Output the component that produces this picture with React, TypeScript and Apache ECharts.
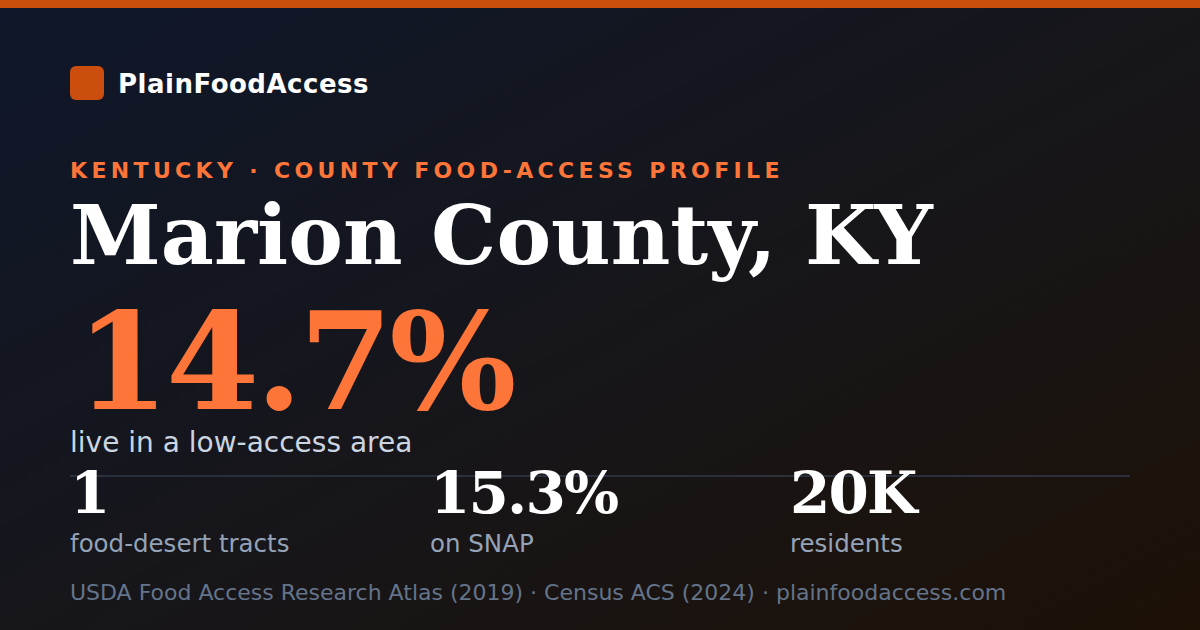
import { useEffect, useRef } from 'react';
import * as echarts from 'echarts';

// card content
const brandName = 'PlainFoodAccess';
const kicker = 'KENTUCKY · COUNTY FOOD-ACCESS PROFILE';
const countyName = 'Marion County, KY';
const headlineValue = ['14.7%'];
const headlineLabel = ['live in a low-access area'];
const statValues = ['1', '15.3%', '20K'];
const statLabels = ['food-desert tracts', 'on SNAP', 'residents'];
const sourceNote = 'USDA Food Access Research Atlas (2019) · Census ACS (2024) · plainfoodaccess.com';

const SANS = '"DejaVu Sans", Verdana, sans-serif';
const SERIF = '"DejaVu Serif", Georgia, serif';
const ORANGE = '#fd7538';
const BAR = '#cb4e0e';

// place text by its alphabetic baseline (zrender centres the line box)
const at = (baseline: number, size: number) => baseline - size * 0.346;

export default function App() {
  const chartRef = useRef<HTMLDivElement>(null);

  useEffect(() => {
    if (!chartRef.current) return;
    document.body.style.margin = '0';

    const chart = echarts.init(chartRef.current, null, { renderer: 'svg' });

    const text = (
      x: number,
      baseline: number,
      value: string,
      size: number,
      color: string,
      family: string,
      weight: string | number = 'normal',
      lineHeight?: number
    ) => ({
      type: 'text',
      x,
      y: at(baseline, size),
      style: {
        text: value,
        fill: color,
        fontSize: size,
        fontFamily: family,
        fontWeight: weight,
        lineHeight: lineHeight ?? size,
        textAlign: 'left',
        textVerticalAlign: 'middle',
      },
    });

    const statCols = [70, 430, 790];

    const option: echarts.EChartsOption = {
      animation: false,
      backgroundColor: '#141620',
      graphic: [
        {
          type: 'rect',
          shape: { x: 0, y: 0, width: 1200, height: 630 },
          style: {
            fill: new echarts.graphic.LinearGradient(0, 0, 1, 1, [
              { offset: 0, color: '#0f172a' },
              { offset: 0.5, color: '#16161b' },
              { offset: 1, color: '#1d1106' },
            ]),
          },
        },
        { type: 'rect', shape: { x: 0, y: 0, width: 1200, height: 8 }, style: { fill: BAR } },
        { type: 'rect', shape: { x: 70, y: 66, width: 34, height: 34, r: 6 }, style: { fill: BAR } },
        text(118, 93, brandName, 26, '#ffffff', SANS, 'bold'),
        text(70, 178.5, kicker, 22, ORANGE, SANS, 'bold'),
        text(70, 263, countyName, 82, '#ffffff', SERIF, 'bold', 80),
        text(76, 408, headlineValue[0], 134, ORANGE, SERIF, 'bold', 108),
        text(70, 452, headlineLabel[0], 28, '#cbd5e1', SANS),
        {
          type: 'line',
          shape: { x1: 70, y1: 476, x2: 1130, y2: 476 },
          style: { stroke: '#2a303b', lineWidth: 2 },
        },
        ...statValues.map((v, i) => text(statCols[i], 513, v, 58, '#ffffff', SERIF, 'bold', 50)),
        ...statLabels.map((v, i) => text(statCols[i], 552, v, 24.5, '#94a3b8', SANS)),
        text(70, 600, sourceNote, 22, '#64748b', SANS),
      ] as any,
    };

    chart.setOption(option);

    // letter spacing that zrender cannot express
    const spacing = new Map<string, string>([
      [brandName, '0.5'],
      [kicker, '4.35'],
      [headlineValue[0], '-3.3'],
      ...statValues.map((v) => [v, '-1.8'] as [string, string]),
    ]);
    chartRef.current.querySelectorAll('text').forEach((t) => {
      const ls = spacing.get(t.textContent ?? '');
      if (ls) t.setAttribute('letter-spacing', ls);
    });

    return () => {
      chart.dispose();
    };
  }, []);

  return (
    <div
      ref={chartRef}
      style={{ position: 'fixed', left: 0, top: 0, width: 1200, height: 630 }}
    />
  );
}
